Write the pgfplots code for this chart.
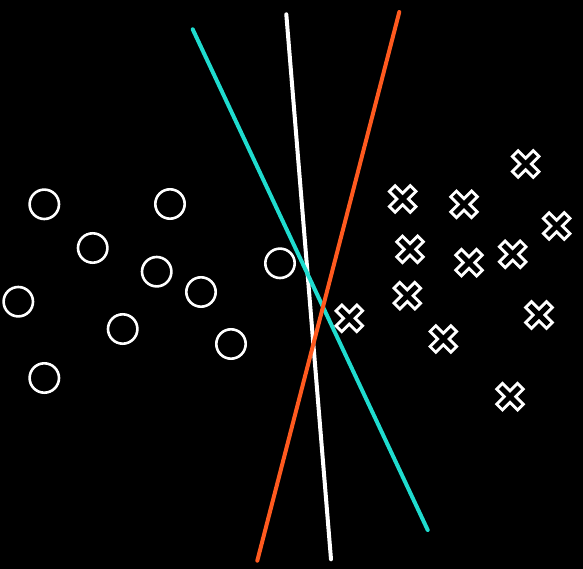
\documentclass[border=0pt]{standalone}
\usepackage{pgfplots}
\pgfplotsset{compat=1.18}
\definecolor{cyanline}{HTML}{1FDCCF}
\definecolor{orangeline}{HTML}{FF5A1F}
\pgfdeclareplotmark{fatx}{%
  \pgfsetbuttcap
  \pgfsetlinewidth{11pt}%
  \pgfsetstrokecolor{white}%
  \pgfpathmoveto{\pgfqpoint{-11.4pt}{-11.4pt}}\pgfpathlineto{\pgfqpoint{11.4pt}{11.4pt}}%
  \pgfpathmoveto{\pgfqpoint{-11.4pt}{11.4pt}}\pgfpathlineto{\pgfqpoint{11.4pt}{-11.4pt}}%
  \pgfusepathqstroke
  \pgfsetlinewidth{5pt}%
  \pgfsetstrokecolor{black}%
  \pgfpathmoveto{\pgfqpoint{-9.3pt}{-9.3pt}}\pgfpathlineto{\pgfqpoint{9.3pt}{9.3pt}}%
  \pgfpathmoveto{\pgfqpoint{-9.3pt}{9.3pt}}\pgfpathlineto{\pgfqpoint{9.3pt}{-9.3pt}}%
  \pgfusepathqstroke
}
\begin{document}
\begin{tikzpicture}
\begin{axis}[
  scale only axis, width=583pt, height=569pt,
  xmin=0, xmax=583, ymin=0, ymax=569, y dir=reverse,
  axis line style={draw=none}, xtick=\empty, ytick=\empty,
  axis background/.style={fill=black},
  clip=false,
]
\addplot[draw=white, line width=4pt, line cap=round] coordinates {(286.3,14.3) (331,559.3)};
\addplot[draw=cyanline, line width=4pt, line cap=round] coordinates {(192.7,29.3) (427.7,530)};
\addplot[draw=orangeline, line width=4pt, line cap=round] coordinates {(399.3,12) (257.3,560.7)};
\addplot[only marks, mark=*, mark size=14.7pt, mark options={draw=white, fill=black, line width=2.6pt}] coordinates {
(44.3,204.3) (170,204) (92.7,248) (156.7,271.7) (201,292) (18.3,301.7) (122.7,329) (231,344) (44.3,378) (280,263.3)};
\addplot[only marks, mark=fatx] coordinates {
(525.7,164) (402.7,199) (464,204.3) (556.7,226) (410,249.3) (469,262.7) (512.7,254.3) (407.3,295.7) (349.3,318.3) (539,315) (443.3,339) (510,396.7)};
\end{axis}
\end{tikzpicture}
\end{document}
